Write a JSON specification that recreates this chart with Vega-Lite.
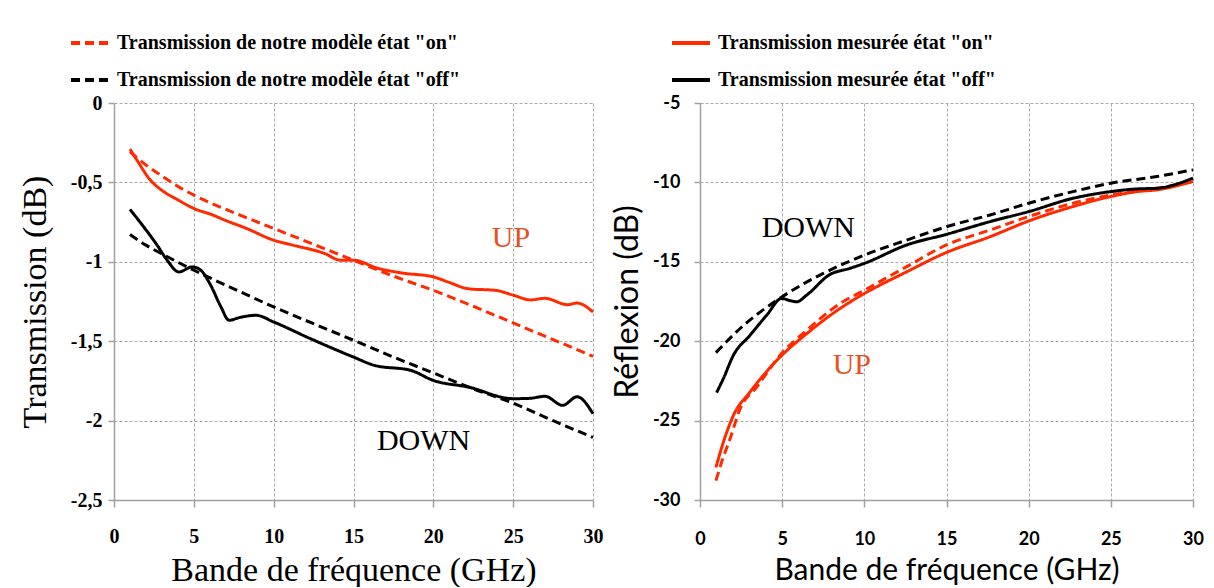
{
  "$schema": "https://vega.github.io/schema/vega-lite/v6.json",
  "background": "white",
  "padding": {"left": 18, "top": 22, "right": 0, "bottom": 0},
  "spacing": 107,
  "bounds": "flush",
  "datasets": {
    "trans": [
      {"s":"mod_on","f":1,"v":-0.307},{"s":"mod_on","f":2,"v":-0.39},{"s":"mod_on","f":3,"v":-0.46},{"s":"mod_on","f":4,"v":-0.525},{"s":"mod_on","f":5,"v":-0.58},{"s":"mod_on","f":7.5,"v":-0.69},{"s":"mod_on","f":10,"v":-0.79},{"s":"mod_on","f":12.5,"v":-0.89},{"s":"mod_on","f":15,"v":-0.99},{"s":"mod_on","f":17.5,"v":-1.09},{"s":"mod_on","f":20,"v":-1.18},{"s":"mod_on","f":22.5,"v":-1.28},{"s":"mod_on","f":25,"v":-1.385},{"s":"mod_on","f":27.5,"v":-1.49},{"s":"mod_on","f":30,"v":-1.595},
      {"s":"mes_on","f":1,"v":-0.29},{"s":"mes_on","f":1.5,"v":-0.37},{"s":"mes_on","f":2.27,"v":-0.485},{"s":"mes_on","f":3,"v":-0.55},{"s":"mes_on","f":4,"v":-0.61},{"s":"mes_on","f":5,"v":-0.664},{"s":"mes_on","f":6.2,"v":-0.706},{"s":"mes_on","f":7,"v":-0.74},{"s":"mes_on","f":8.3,"v":-0.79},{"s":"mes_on","f":10,"v":-0.864},{"s":"mes_on","f":11.2,"v":-0.895},{"s":"mes_on","f":13.2,"v":-0.948},{"s":"mes_on","f":14.2,"v":-0.99},{"s":"mes_on","f":15,"v":-0.99},{"s":"mes_on","f":16.5,"v":-1.04},{"s":"mes_on","f":18,"v":-1.07},{"s":"mes_on","f":20,"v":-1.095},{"s":"mes_on","f":21,"v":-1.13},{"s":"mes_on","f":22.2,"v":-1.17},{"s":"mes_on","f":23.9,"v":-1.18},{"s":"mes_on","f":25,"v":-1.21},{"s":"mes_on","f":26.1,"v":-1.24},{"s":"mes_on","f":27,"v":-1.23},{"s":"mes_on","f":28.4,"v":-1.27},{"s":"mes_on","f":29,"v":-1.26},{"s":"mes_on","f":30,"v":-1.316},
      {"s":"mod_off","f":1,"v":-0.828},{"s":"mod_off","f":2,"v":-0.895},{"s":"mod_off","f":3,"v":-0.95},{"s":"mod_off","f":5,"v":-1.053},{"s":"mod_off","f":7.5,"v":-1.17},{"s":"mod_off","f":10,"v":-1.284},{"s":"mod_off","f":12.5,"v":-1.39},{"s":"mod_off","f":15,"v":-1.494},{"s":"mod_off","f":17.5,"v":-1.6},{"s":"mod_off","f":20,"v":-1.7},{"s":"mod_off","f":22.5,"v":-1.8},{"s":"mod_off","f":25,"v":-1.89},{"s":"mod_off","f":27.5,"v":-2.0},{"s":"mod_off","f":30,"v":-2.106},
      {"s":"mes_off","f":1,"v":-0.67},{"s":"mes_off","f":1.86,"v":-0.78},{"s":"mes_off","f":2.7,"v":-0.895},{"s":"mes_off","f":3.33,"v":-0.99},{"s":"mes_off","f":4.06,"v":-1.064},{"s":"mes_off","f":4.9,"v":-1.032},{"s":"mes_off","f":5.4,"v":-1.05},{"s":"mes_off","f":6.0,"v":-1.137},{"s":"mes_off","f":6.7,"v":-1.284},{"s":"mes_off","f":7.2,"v":-1.368},{"s":"mes_off","f":7.9,"v":-1.35},{"s":"mes_off","f":8.9,"v":-1.337},{"s":"mes_off","f":10,"v":-1.379},{"s":"mes_off","f":12.3,"v":-1.484},{"s":"mes_off","f":15,"v":-1.6},{"s":"mes_off","f":16.3,"v":-1.652},{"s":"mes_off","f":18.6,"v":-1.684},{"s":"mes_off","f":20,"v":-1.747},{"s":"mes_off","f":22.2,"v":-1.789},{"s":"mes_off","f":25,"v":-1.862},{"s":"mes_off","f":26,"v":-1.86},{"s":"mes_off","f":27,"v":-1.847},{"s":"mes_off","f":28.1,"v":-1.904},{"s":"mes_off","f":29,"v":-1.85},{"s":"mes_off","f":30,"v":-1.957}
    ],
    "refl": [
      {"s":"mod_on","f":0.97,"v":-28.78},{"s":"mod_on","f":1.32,"v":-27.6},{"s":"mod_on","f":1.83,"v":-26.15},{"s":"mod_on","f":2.44,"v":-24.25},{"s":"mod_on","f":3.45,"v":-22.89},{"s":"mod_on","f":4.87,"v":-20.89},{"s":"mod_on","f":6.5,"v":-19.31},{"s":"mod_on","f":8.52,"v":-17.63},{"s":"mod_on","f":10,"v":-16.79},{"s":"mod_on","f":12.58,"v":-15.3},{"s":"mod_on","f":15,"v":-13.94},{"s":"mod_on","f":17.65,"v":-13.0},{"s":"mod_on","f":20,"v":-12.15},{"s":"mod_on","f":22.7,"v":-11.31},{"s":"mod_on","f":25,"v":-10.79},{"s":"mod_on","f":27.8,"v":-10.37},{"s":"mod_on","f":30,"v":-9.94},
      {"s":"mes_on","f":0.97,"v":-27.94},{"s":"mes_on","f":1.42,"v":-26.36},{"s":"mes_on","f":2.03,"v":-24.68},{"s":"mes_on","f":3.04,"v":-23.2},{"s":"mes_on","f":4.87,"v":-21.0},{"s":"mes_on","f":6.5,"v":-19.52},{"s":"mes_on","f":8.52,"v":-17.94},{"s":"mes_on","f":10,"v":-17.0},{"s":"mes_on","f":12.58,"v":-15.63},{"s":"mes_on","f":15,"v":-14.41},{"s":"mes_on","f":17.65,"v":-13.42},{"s":"mes_on","f":20,"v":-12.43},{"s":"mes_on","f":22.7,"v":-11.52},{"s":"mes_on","f":25,"v":-10.89},{"s":"mes_on","f":26.6,"v":-10.58},{"s":"mes_on","f":27.8,"v":-10.47},{"s":"mes_on","f":30,"v":-9.94},
      {"s":"mod_off","f":0.97,"v":-20.72},{"s":"mod_off","f":2.44,"v":-19.2},{"s":"mod_off","f":5,"v":-17.2},{"s":"mod_off","f":7.5,"v":-15.73},{"s":"mod_off","f":10,"v":-14.58},{"s":"mod_off","f":12.58,"v":-13.63},{"s":"mod_off","f":15,"v":-12.79},{"s":"mod_off","f":17.65,"v":-12.05},{"s":"mod_off","f":20,"v":-11.31},{"s":"mod_off","f":22.7,"v":-10.58},{"s":"mod_off","f":25,"v":-10.05},{"s":"mod_off","f":27.8,"v":-9.63},{"s":"mod_off","f":30,"v":-9.21},
      {"s":"mes_off","f":1.01,"v":-23.24},{"s":"mes_off","f":1.42,"v":-22.36},{"s":"mes_off","f":2.03,"v":-20.89},{"s":"mes_off","f":3.04,"v":-19.63},{"s":"mes_off","f":4.06,"v":-18.36},{"s":"mes_off","f":4.97,"v":-17.31},{"s":"mes_off","f":5.5,"v":-17.45},{"s":"mes_off","f":5.88,"v":-17.52},{"s":"mes_off","f":6.49,"v":-17.1},{"s":"mes_off","f":7.9,"v":-15.8},{"s":"mes_off","f":9.1,"v":-15.42},{"s":"mes_off","f":10,"v":-15.1},{"s":"mes_off","f":12.58,"v":-13.94},{"s":"mes_off","f":15,"v":-13.27},{"s":"mes_off","f":17.65,"v":-12.47},{"s":"mes_off","f":20,"v":-11.84},{"s":"mes_off","f":22.7,"v":-11.0},{"s":"mes_off","f":25,"v":-10.58},{"s":"mes_off","f":26.6,"v":-10.41},{"s":"mes_off","f":27.8,"v":-10.37},{"s":"mes_off","f":30,"v":-9.73}
    ],
    "notesT": [
      {"label":"UP","f":24.86,"v":-0.848},
      {"label":"DOWN","f":19.39,"v":-2.131}
    ],
    "notesR": [
      {"label":"DOWN","f":6.59,"v":-12.86},
      {"label":"UP","f":9.24,"v":-21.5}
    ]
  },
  "resolve": {
    "scale": {"x": "independent", "y": "independent", "color": "independent", "strokeDash": "independent"},
    "legend": {"color": "independent", "strokeDash": "independent"}
  },
  "hconcat": [
    {
      "width": 479,
      "height": 397,
      "layer": [
        {
          "data": {"name": "trans"},
          "mark": {"type": "line", "strokeWidth": 3, "interpolate": "monotone"},
          "encoding": {
            "x": {"field": "f", "type": "quantitative", "scale": {"domain": [0, 30], "nice": false},
              "axis": {"values": [0,5,10,15,20,25,30], "title": "Bande de fréquence (GHz)",
                "labelFont": "Liberation Serif", "labelFontWeight": "bold", "labelFontSize": 20, "labelPadding": 19, "labelFlush": false, "labelOverlap": false,
                "tickSize": 7, "titleFont": "Liberation Serif", "titleFontSize": 34, "titleFontWeight": "normal", "titlePadding": 7}},
            "y": {"field": "v", "type": "quantitative", "scale": {"domain": [-2.5, 0], "nice": false},
              "axis": {"values": [-2.5,-2,-1.5,-1,-0.5,0], "title": "Transmission (dB)", "labelExpr": "replace(toString(datum.value), '.', ',')",
                "labelFont": "Liberation Serif", "labelFontWeight": "bold", "labelFontSize": 20, "labelPadding": 6, "labelOverlap": false,
                "tickSize": 6, "titleFont": "Liberation Serif", "titleFontSize": 34, "titleFontWeight": "normal", "titlePadding": 18}},
            "color": {"field": "s", "type": "nominal",
              "scale": {"domain": ["mod_on", "mod_off", "mes_on", "mes_off"], "range": ["#ff2a00", "#000000", "#ff2a00", "#000000"]},
              "legend": {"title": null, "orient": "none", "legendX": -45, "legendY": -81, "columns": 2, "columnPadding": 203, "rowPadding": 6, "padding": 0,
                "symbolType": "stroke", "symbolSize": 1444, "symbolStrokeWidth": 4, "labelFont": "Liberation Serif", "labelFontWeight": "bold", "labelFontSize": 20, "labelColor": "black", "labelOffset": 6, "labelLimit": 600,
                "labelExpr": "datum.value == 'mod_on' ? 'Transmission de notre modèle état \"on\"' : datum.value == 'mes_on' ? 'Transmission mesurée état \"on\"' : datum.value == 'mod_off' ? 'Transmission de notre modèle état \"off\"' : 'Transmission mesurée état \"off\"'"}},
            "strokeDash": {"field": "s", "type": "nominal",
              "scale": {"domain": ["mod_on", "mod_off", "mes_on", "mes_off"], "range": [[9, 5], [9, 5], [1, 0], [1, 0]]},
              "legend": {"title": null, "orient": "none", "legendX": -45, "legendY": -81, "columns": 2, "columnPadding": 203, "rowPadding": 6, "padding": 0,
                "symbolType": "stroke", "symbolSize": 1444, "symbolStrokeWidth": 4, "labelFont": "Liberation Serif", "labelFontWeight": "bold", "labelFontSize": 20, "labelColor": "black", "labelOffset": 6, "labelLimit": 600,
                "labelExpr": "datum.value == 'mod_on' ? 'Transmission de notre modèle état \"on\"' : datum.value == 'mes_on' ? 'Transmission mesurée état \"on\"' : datum.value == 'mod_off' ? 'Transmission de notre modèle état \"off\"' : 'Transmission mesurée état \"off\"'"}}
          }
        },
        {
          "data": {"name": "notesT"},
          "mark": {"type": "text", "font": "Liberation Serif", "fontSize": 30, "baseline": "middle", "align": "center"},
          "encoding": {
            "x": {"field": "f", "type": "quantitative"},
            "y": {"field": "v", "type": "quantitative"},
            "text": {"field": "label"},
            "color": {"condition": {"test": "datum.label == 'UP'", "value": "#e8501e"}, "value": "#000000"}
          }
        }
      ]
    },
    {
      "width": 493,
      "height": 397,
      "layer": [
        {
          "data": {"name": "refl"},
          "mark": {"type": "line", "strokeWidth": 3, "interpolate": "monotone"},
          "encoding": {
            "x": {"field": "f", "type": "quantitative", "scale": {"domain": [0, 30], "nice": false},
              "axis": {"values": [0,5,10,15,20,25,30], "title": "Bande de fréquence (GHz)",
                "labelFont": "Lato", "labelFontWeight": "bold", "labelFontSize": 18, "labelPadding": 23, "labelFlush": false, "labelOverlap": false,
                "tickSize": 7, "titleFont": "Lato", "titleFontSize": 30, "titleFontWeight": "normal", "titlePadding": 7}},
            "y": {"field": "v", "type": "quantitative", "scale": {"domain": [-30, -5], "nice": false},
              "axis": {"values": [-30,-25,-20,-15,-10,-5], "title": "Réflexion (dB)", "labelExpr": "toString(datum.value)",
                "labelFont": "Lato", "labelFontWeight": "bold", "labelFontSize": 18, "labelPadding": 14, "labelOverlap": false,
                "tickSize": 6, "titleFont": "Lato", "titleFontSize": 32, "titleFontWeight": "normal", "titlePadding": 8}},
            "color": {"field": "s", "type": "nominal",
              "scale": {"domain": ["mod_on", "mod_off", "mes_on", "mes_off"], "range": ["#ff2a00", "#000000", "#ff2a00", "#000000"]},
              "legend": null},
            "strokeDash": {"field": "s", "type": "nominal",
              "scale": {"domain": ["mod_on", "mod_off", "mes_on", "mes_off"], "range": [[9, 5], [9, 5], [1, 0], [1, 0]]},
              "legend": null}
          }
        },
        {
          "data": {"name": "notesR"},
          "mark": {"type": "text", "font": "Liberation Serif", "fontSize": 30, "baseline": "middle", "align": "center"},
          "encoding": {
            "x": {"field": "f", "type": "quantitative"},
            "y": {"field": "v", "type": "quantitative"},
            "text": {"field": "label"},
            "color": {"condition": {"test": "datum.label == 'UP'", "value": "#e8501e"}, "value": "#000000"}
          }
        }
      ]
    }
  ],
  "config": {
    "view": {"stroke": null},
    "axis": {
      "grid": true, "gridColor": "#a8a8a8", "gridDash": [3, 2], "gridWidth": 1,
      "domainColor": "#a0a0a0", "domainWidth": 1.5, "tickColor": "#a0a0a0", "tickWidth": 1.5,
      "labelColor": "#000000", "titleColor": "#000000"
    }
  }
}
